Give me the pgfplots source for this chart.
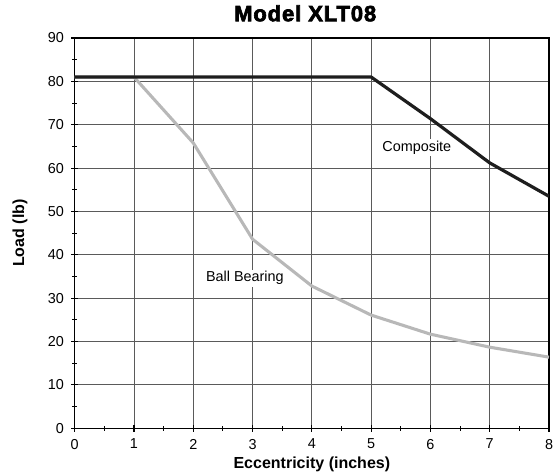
\documentclass[border=0pt]{standalone}
\usepackage{pgfplots}
\pgfplotsset{compat=1.18}
\usepackage{fontspec}
\setmainfont{Liberation Sans}
\newfontfamily\blackfont[FakeBold=3,LetterSpace=4]{Liberation Sans Bold}
\definecolor{gridc}{RGB}{90,90,90}
\definecolor{bb}{RGB}{184,184,184}
\definecolor{comp}{RGB}{30,30,30}
\begin{document}
\begin{tikzpicture}
\begin{axis}[
  scale only axis, width=355.5pt, height=292.5pt,
  xmin=0, xmax=8, ymin=0, ymax=90,
  xtick={0,...,8}, ytick={0,10,...,90},
  minor xtick={0.5,1.5,...,7.5}, minor ytick={5,15,...,85},
  grid=major, major grid style={gridc, line width=0.7pt},
  axis line style={black, line width=0.8pt},
  tick align=center, major tick length=5pt, minor tick length=4pt,
  tick style={black, line width=0.8pt},
  xtick pos=bottom, ytick pos=left,
  ticklabel style={font=\fontsize{10.8}{12}\selectfont},
  /pgf/number format/assume math mode=true,
  xlabel={\bfseries Eccentricity (inches)},
  ylabel={\bfseries Load (lb)},
  xlabel style={font=\fontsize{12}{14}\selectfont, at={(axis description cs:0.5,0)}, anchor=center, yshift=-27pt},
  ylabel style={font=\fontsize{12}{14}\selectfont, at={(axis description cs:0,0.5)}, anchor=center, yshift=41pt},
  title={\blackfont Model XLT08},
  title style={font=\fontsize{16.5}{18}\selectfont, at={(axis description cs:0.5,1)}, anchor=center, yshift=12.5pt, xshift=-5pt},
  xticklabel style={yshift=-2pt},
  yticklabel style={xshift=-2pt},
]
\addplot[bb, line width=2.3pt] coordinates {(0,81) (1,81) (2,65.8) (3,43.6) (4,32.8) (5,26.1) (6,21.7) (7,18.7) (8,16.4)};
\addplot[comp, line width=2.4pt] coordinates {(0,81) (1,81) (2,81) (3,81) (4,81) (5,81) (6,71.4) (7,61.2) (8,53.5)};
\node[fill=white, inner sep=1.5pt, font=\fontsize{10.8}{12}\selectfont] at (axis cs:5.77,64.8) {Composite};
\node[fill=white, inner sep=1.5pt, font=\fontsize{10.8}{12}\selectfont] at (axis cs:2.87,34.6) {Ball Bearing};
\end{axis}
\pgfresetboundingbox
\path (current axis.south west) ++(-56pt,-34.5pt) coordinate (bl);
\path (current axis.north east) ++(3pt,28.5pt) coordinate (tr);
\path[use as bounding box] (bl) rectangle (tr);
\end{tikzpicture}
\end{document}
